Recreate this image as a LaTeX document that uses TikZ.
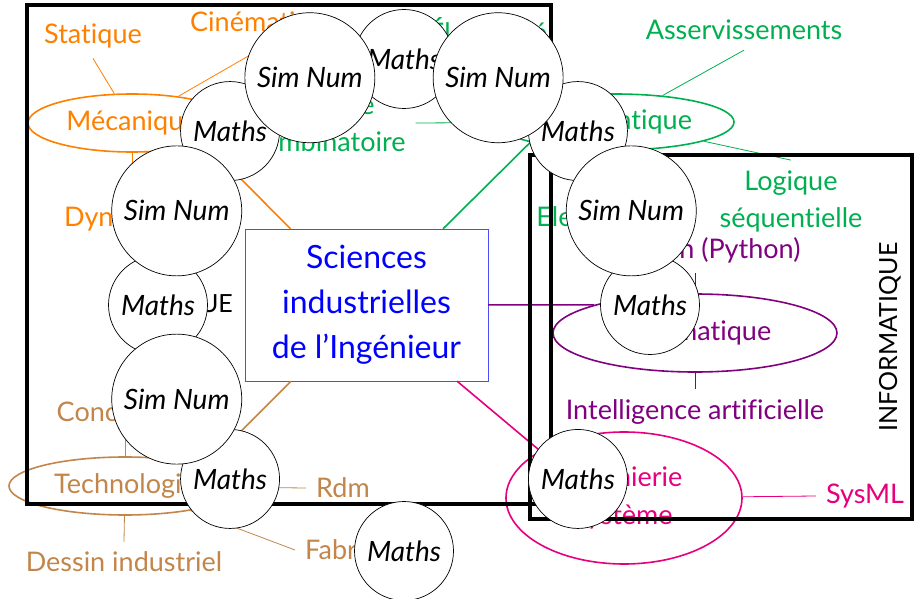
\documentclass[tikz,border=0pt]{standalone}
\usepackage{fontspec}
\setmainfont{Lato}[Ligatures=NoCommon]
\setsansfont{Lato}[Ligatures=NoCommon]
\usetikzlibrary{shapes.geometric,calc}
\definecolor{cmeca}{RGB}{255,128,0}
\definecolor{cauto}{RGB}{0,176,80}
\definecolor{cinfo}{RGB}{128,0,128}
\definecolor{cingsys}{RGB}{230,0,126}
\definecolor{ctechno}{RGB}{194,133,74}

\begin{document}
\begin{tikzpicture}[x=1pt, y=-1pt,
		racine/.style = {rectangle, draw=blue!70, fill=white, text=blue, align=center, font=\fontsize{32}{45}\selectfont, minimum width=243, minimum height=152},
		branche/.style = {ellipse, line width=1.6pt, inner sep=0pt, align=center, font=\fontsize{27}{38}\selectfont},
		feuille/.style = {inner sep=10pt, align=center, font=\fontsize{27}{37}\selectfont},
		lien/.style = {line width=0.8pt},
		tronc/.style = {line width=1.6pt},
		cadre/.style = {line width=4pt},
		bulle/.style = {circle, draw, fill=white, line width=0.7pt, inner sep=0pt, font=\itshape\fontsize{28}{30}\selectfont},
		maths/.style = {bulle, minimum size=99},
		simnum/.style = {bulle, minimum size=130},
		]
		\useasboundingbox (0,0) rectangle (914,599);
		
		%Nodes
		\node[racine]	(sii)	at	(366.5,305)	{Sciences\\industrielles\\de l’Ingénieur};
		
		\node[branche, draw=cmeca, text=cmeca, minimum width=208, minimum height=58]	(meca)	at	(132,123)	{Mécanique};
		\node[feuille, cmeca]	(stat)	at	(93,36)	{Statique};
		\node[feuille, cmeca, anchor=west]	(cine)	at	(180,24)	{Cinématique};
		\node[feuille, cmeca]	(dyna)	at	(132,219)	{Dynamique};
		
		\node[branche, draw=cauto, text=cauto, minimum width=238, minimum height=56]	(autom)	at	(615,122)	{Automatique};
		\node[feuille, cauto]	(asserv)	at	(744,30)	{Asservissements};
		\node[feuille, cauto]	(logseq)	at	(791,201)	{Logique\\séquentielle};
		\node[feuille, cauto]	(logcomb)	at	(328,123)	{Logique\\combinatoire};
		\node[feuille, cauto]	(elec)	at	(611,219)	{Electronique};
		\node[feuille, cauto]	(electr)	at	(488,30)	{Électricité};
		
		\node[branche, draw=cinfo, text=cinfo, minimum width=284, minimum height=78]	(info)	at	(695,333)	{Informatique};
		\node[feuille, cinfo]	(python)	at	(695,250)	{Initiation (Python)};
		\node[feuille, cinfo]	(ia)	at	(695,412)	{Intelligence artificielle};
		
		\node[branche, draw=cingsys, text=cingsys, minimum width=236, minimum height=132]	(ingsys)	at	(624,498)	{Ingénierie\\système};
		\node[feuille, cingsys]	(sysml)	at	(865,496)	{SysML};
		
		\node[branche, draw=ctechno, text=ctechno, minimum width=232, minimum height=58]	(techno)	at	(125,486)	{Technologie};
		\node[feuille, ctechno]	(conc)	at	(125,414)	{Conception};
		\node[feuille, ctechno]	(dessin)	at	(124,562)	{Dessin industriel};
		\node[feuille, ctechno]	(rdm)	at	(343,488)	{Rdm};
		\node[feuille, ctechno, anchor=west]	(fab)	at	(295,550)	{Fabrication};
		
		%Lines
		\draw[tronc, cmeca]	(sii)	--	(meca.south east);
		\draw[tronc, cauto]	(sii)	--	(autom.south west);
		\draw[tronc, cinfo]	(sii)	--	(info.north west);
		\draw[tronc, cingsys]	(sii)	--	(ingsys.north west);
		\draw[tronc, ctechno]	(sii)	--	(techno.north east);
		
		\draw[lien, cmeca]	(meca)	--	(stat.south);
		\draw[lien, cmeca]	(meca)	--	(cine.south);
		\draw[lien, cmeca]	(meca)	--	(dyna.north);
		\draw[lien, cauto]	(autom)	--	(asserv.south);
		\draw[lien, cauto]	(autom)	--	(logseq.north);
		\draw[lien, cauto]	(autom)	--	(logcomb.east);
		\draw[lien, cauto]	(autom)	--	(elec.north);
		\draw[lien, cauto]	(autom)	--	(electr.south);
		\draw[lien, cinfo]	(info)	--	(python.south);
		\draw[lien, cinfo]	(info)	--	(ia.north);
		\draw[lien, cingsys]	(ingsys)	--	(sysml.west);
		\draw[lien, ctechno]	(techno)	--	(conc.south);
		\draw[lien, ctechno]	(techno)	--	(dessin.north);
		\draw[lien, ctechno]	(techno)	--	(rdm.west);
		\draw[lien, ctechno]	(techno)	--	(fab.west);
		
		%Frames
		\draw[cadre]	(27,5)	rectangle	(551,504);
		\draw[cadre]	(530,155)	rectangle	(912,519);
		\node[font=\fontsize{25}{30}\selectfont, inner sep=0pt, anchor=east]	(physique)	at	(233,305)	{PHYSIQUE};
		\node[font=\fontsize{25}{30}\selectfont, rotate=90]	(informatique)	at	(890,337)	{INFORMATIQUE};
		
		%Circles
		\coordinate	(centre)	at	(404,305);
		\foreach \a [count=\i] in {0,45,...,315}
			\node[maths]	(maths\i)	at	($(centre)+(-\a:246)$)	{Maths};
		\foreach \a [count=\i] in {22.5,67.5,112.5,157.5,202.5}
			\node[simnum]	(simnum\i)	at	($(centre)+(-\a:246)$)	{Sim Num};
		
	\end{tikzpicture}
\end{document}
